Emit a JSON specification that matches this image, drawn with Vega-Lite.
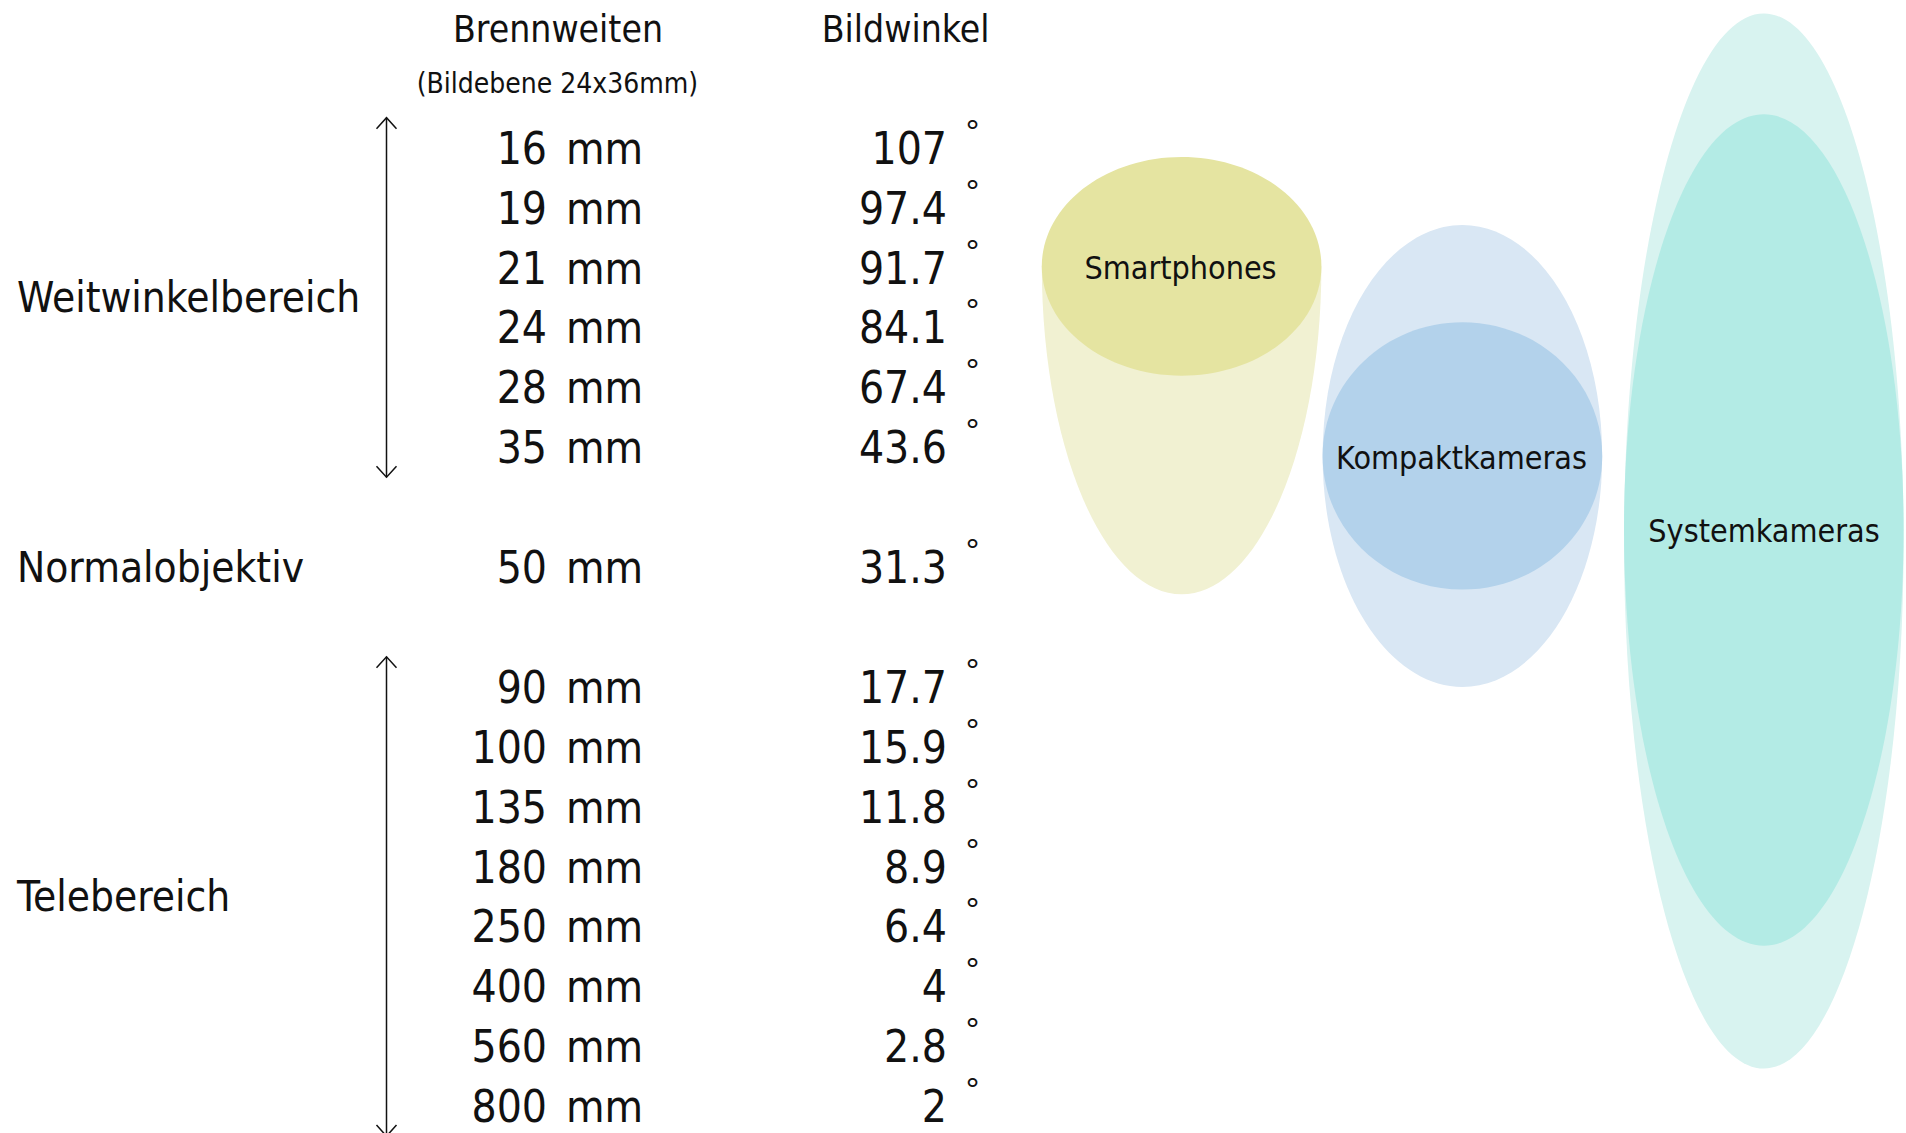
{
  "$schema": "https://vega.github.io/schema/vega-lite/v6.json",
  "width": 1906,
  "height": 1133,
  "padding": 0,
  "autosize": {"type": "none"},
  "background": "#ffffff",
  "config": {
    "view": {"stroke": null},
    "text": {"font": "Liberation Sans Narrow, DejaVu Sans Condensed, Roboto", "color": "#111111"}
  },
  "datasets": {
    "tabelle": [
      {"brennweite": 16, "winkel": 107, "gruppe": "Weitwinkelbereich", "zeile": 0},
      {"brennweite": 19, "winkel": 97.4, "gruppe": "Weitwinkelbereich", "zeile": 1},
      {"brennweite": 21, "winkel": 91.7, "gruppe": "Weitwinkelbereich", "zeile": 2},
      {"brennweite": 24, "winkel": 84.1, "gruppe": "Weitwinkelbereich", "zeile": 3},
      {"brennweite": 28, "winkel": 67.4, "gruppe": "Weitwinkelbereich", "zeile": 4},
      {"brennweite": 35, "winkel": 43.6, "gruppe": "Weitwinkelbereich", "zeile": 5},
      {"brennweite": 50, "winkel": 31.3, "gruppe": "Normalobjektiv", "zeile": 7},
      {"brennweite": 90, "winkel": 17.7, "gruppe": "Telebereich", "zeile": 9},
      {"brennweite": 100, "winkel": 15.9, "gruppe": "Telebereich", "zeile": 10},
      {"brennweite": 135, "winkel": 11.8, "gruppe": "Telebereich", "zeile": 11},
      {"brennweite": 180, "winkel": 8.9, "gruppe": "Telebereich", "zeile": 12},
      {"brennweite": 250, "winkel": 6.4, "gruppe": "Telebereich", "zeile": 13},
      {"brennweite": 400, "winkel": 4, "gruppe": "Telebereich", "zeile": 14},
      {"brennweite": 560, "winkel": 2.8, "gruppe": "Telebereich", "zeile": 15},
      {"brennweite": 800, "winkel": 2, "gruppe": "Telebereich", "zeile": 16}
    ],
    "kameras": [
      {"kamera": "Smartphones"},
      {"kamera": "Kompaktkameras"},
      {"kamera": "Systemkameras"}
    ]
  },
  "layer": [
    {
      "data": {"name": "kameras"},
      "transform": [{"filter": "datum.kamera === 'Smartphones'"}],
      "mark": {"type": "point", "shape": "M -0.4262 0 C -0.4262 0.5523 -0.2354 1 0 1 C 0.2354 1 0.4262 0.5523 0.4262 0 Z", "size": 430336, "filled": true, "fill": "#f1f1d2", "opacity": 1, "strokeWidth": 0},
      "encoding": {
        "x": {"datum": 1181.6, "type": "quantitative", "scale": {"domain": [0, 1906], "nice": false, "zero": false}, "axis": null},
        "y": {"datum": 1.98, "type": "quantitative", "scale": {"domain": [-2.4658, 16.449], "nice": false, "zero": false, "reverse": true}, "axis": null}
      }
    },
    {
      "data": {"name": "kameras"},
      "transform": [{"filter": "datum.kamera === 'Smartphones'"}],
      "mark": {"type": "point", "shape": "M -1.278 0 C -1.278 -0.5523 -0.7058 -1 0 -1 C 0.7058 -1 1.278 -0.5523 1.278 0 C 1.278 0.5523 0.7058 1 0 1 C -0.7058 1 -1.278 0.5523 -1.278 0 Z", "size": 47873, "filled": true, "fill": "#e5e4a1", "opacity": 1, "strokeWidth": 0},
      "encoding": {
        "x": {"datum": 1181.6, "type": "quantitative", "scale": {"domain": [0, 1906], "nice": false, "zero": false}, "axis": null},
        "y": {"datum": 1.98, "type": "quantitative", "scale": {"domain": [-2.4658, 16.449], "nice": false, "zero": false, "reverse": true}, "axis": null}
      }
    },
    {
      "data": {"name": "kameras"},
      "transform": [{"filter": "datum.kamera === 'Kompaktkameras'"}],
      "mark": {"type": "point", "shape": "M -0.6052 0 C -0.6052 -0.5523 -0.3343 -1 0 -1 C 0.3343 -1 0.6052 -0.5523 0.6052 0 C 0.6052 0.5523 0.3343 1 0 1 C -0.3343 1 -0.6052 0.5523 -0.6052 0 Z", "size": 213444, "filled": true, "fill": "#d9e7f4", "opacity": 1, "strokeWidth": 0},
      "encoding": {
        "x": {"datum": 1462.4, "type": "quantitative", "scale": {"domain": [0, 1906], "nice": false, "zero": false}, "axis": null},
        "y": {"datum": 5.145, "type": "quantitative", "scale": {"domain": [-2.4658, 16.449], "nice": false, "zero": false, "reverse": true}, "axis": null}
      }
    },
    {
      "data": {"name": "kameras"},
      "transform": [{"filter": "datum.kamera === 'Kompaktkameras'"}],
      "mark": {"type": "point", "shape": "M -1.0456 0 C -1.0456 -0.5523 -0.5775 -1 0 -1 C 0.5775 -1 1.0456 -0.5523 1.0456 0 C 1.0456 0.5523 0.5775 1 0 1 C -0.5775 1 -1.0456 0.5523 -1.0456 0 Z", "size": 71503, "filled": true, "fill": "#b3d2eb", "opacity": 1, "strokeWidth": 0},
      "encoding": {
        "x": {"datum": 1462.4, "type": "quantitative", "scale": {"domain": [0, 1906], "nice": false, "zero": false}, "axis": null},
        "y": {"datum": 5.145, "type": "quantitative", "scale": {"domain": [-2.4658, 16.449], "nice": false, "zero": false, "reverse": true}, "axis": null}
      }
    },
    {
      "data": {"name": "kameras"},
      "transform": [{"filter": "datum.kamera === 'Systemkameras'"}],
      "mark": {"type": "point", "shape": "M -0.265 0 C -0.265 -0.5523 -0.1464 -1 0 -1 C 0.1464 -1 0.265 -0.5523 0.265 0 C 0.265 0.5523 0.1464 1 0 1 C -0.1464 1 -0.265 0.5523 -0.265 0 Z", "size": 1113447, "filled": true, "fill": "#d8f3f0", "opacity": 1, "strokeWidth": 0},
      "encoding": {
        "x": {"datum": 1763.8, "type": "quantitative", "scale": {"domain": [0, 1906], "nice": false, "zero": false}, "axis": null},
        "y": {"datum": 6.566, "type": "quantitative", "scale": {"domain": [-2.4658, 16.449], "nice": false, "zero": false, "reverse": true}, "axis": null}
      }
    },
    {
      "data": {"name": "kameras"},
      "transform": [{"filter": "datum.kamera === 'Systemkameras'"}],
      "mark": {"type": "point", "shape": "M -0.3363 0 C -0.3363 -0.5523 -0.1857 -1 0 -1 C 0.1857 -1 0.3363 -0.5523 0.3363 0 C 0.3363 0.5523 0.1857 1 0 1 C -0.1857 1 -0.3363 0.5523 -0.3363 0 Z", "size": 691226, "filled": true, "fill": "#b3ebe5", "opacity": 1, "strokeWidth": 0},
      "encoding": {
        "x": {"datum": 1763.8, "type": "quantitative", "scale": {"domain": [0, 1906], "nice": false, "zero": false}, "axis": null},
        "y": {"datum": 6.382, "type": "quantitative", "scale": {"domain": [-2.4658, 16.449], "nice": false, "zero": false, "reverse": true}, "axis": null}
      }
    },
    {
      "data": {"name": "kameras"},
      "transform": [{"filter": "datum.kamera === 'Smartphones'"}],
      "mark": {"type": "text", "fontSize": 32, "align": "center", "baseline": "middle", "dy": 2},
      "encoding": {
        "x": {"datum": 1180.5, "type": "quantitative", "scale": {"domain": [0, 1906], "nice": false, "zero": false}, "axis": null},
        "y": {"datum": 1.99, "type": "quantitative", "scale": {"domain": [-2.4658, 16.449], "nice": false, "zero": false, "reverse": true}, "axis": null},
        "text": {"field": "kamera", "type": "nominal"}
      }
    },
    {
      "data": {"name": "kameras"},
      "transform": [{"filter": "datum.kamera === 'Kompaktkameras'"}],
      "mark": {"type": "text", "fontSize": 32, "align": "center", "baseline": "middle", "dy": 2},
      "encoding": {
        "x": {"datum": 1461.5, "type": "quantitative", "scale": {"domain": [0, 1906], "nice": false, "zero": false}, "axis": null},
        "y": {"datum": 5.16, "type": "quantitative", "scale": {"domain": [-2.4658, 16.449], "nice": false, "zero": false, "reverse": true}, "axis": null},
        "text": {"field": "kamera", "type": "nominal"}
      }
    },
    {
      "data": {"name": "kameras"},
      "transform": [{"filter": "datum.kamera === 'Systemkameras'"}],
      "mark": {"type": "text", "fontSize": 32, "align": "center", "baseline": "middle", "dy": 2},
      "encoding": {
        "x": {"datum": 1764, "type": "quantitative", "scale": {"domain": [0, 1906], "nice": false, "zero": false}, "axis": null},
        "y": {"datum": 6.38, "type": "quantitative", "scale": {"domain": [-2.4658, 16.449], "nice": false, "zero": false, "reverse": true}, "axis": null},
        "text": {"field": "kamera", "type": "nominal"}
      }
    },
    {
      "data": {"values": [{"titel": "Brennweiten"}]},
      "mark": {"type": "text", "fontSize": 37, "align": "center", "baseline": "middle", "dy": 3},
      "encoding": {
        "x": {"datum": 558, "type": "quantitative", "scale": {"domain": [0, 1906], "nice": false, "zero": false}, "axis": null},
        "y": {"datum": -2, "type": "quantitative", "scale": {"domain": [-2.4658, 16.449], "nice": false, "zero": false, "reverse": true}, "axis": null},
        "text": {"field": "titel", "type": "nominal"}
      }
    },
    {
      "data": {"values": [{"titel": "(Bildebene 24x36mm)"}]},
      "mark": {"type": "text", "fontSize": 28, "align": "center", "baseline": "middle", "dy": 2},
      "encoding": {
        "x": {"datum": 557.4, "type": "quantitative", "scale": {"domain": [0, 1906], "nice": false, "zero": false}, "axis": null},
        "y": {"datum": -1.085, "type": "quantitative", "scale": {"domain": [-2.4658, 16.449], "nice": false, "zero": false, "reverse": true}, "axis": null},
        "text": {"field": "titel", "type": "nominal"}
      }
    },
    {
      "data": {"values": [{"titel": "Bildwinkel"}]},
      "mark": {"type": "text", "fontSize": 37, "align": "center", "baseline": "middle", "dy": 3},
      "encoding": {
        "x": {"datum": 905.6, "type": "quantitative", "scale": {"domain": [0, 1906], "nice": false, "zero": false}, "axis": null},
        "y": {"datum": -2, "type": "quantitative", "scale": {"domain": [-2.4658, 16.449], "nice": false, "zero": false, "reverse": true}, "axis": null},
        "text": {"field": "titel", "type": "nominal"}
      }
    },
    {
      "data": {"name": "tabelle"},
      "mark": {"type": "text", "fontSize": 42, "align": "left", "baseline": "middle", "dy": 2},
      "encoding": {
        "x": {"datum": 17, "type": "quantitative", "scale": {"domain": [0, 1906], "nice": false, "zero": false}, "axis": null},
        "y": {"aggregate": "mean", "field": "zeile", "type": "quantitative", "scale": {"domain": [-2.4658, 16.449], "nice": false, "zero": false, "reverse": true}, "axis": null},
        "text": {"field": "gruppe", "type": "nominal"}
      }
    },
    {
      "data": {"name": "tabelle"},
      "transform": [{"filter": "datum.gruppe !== 'Normalobjektiv'"}],
      "mark": {"type": "rule", "color": "#111111", "strokeWidth": 1.5, "yOffset": -30, "y2Offset": 30},
      "encoding": {
        "x": {"datum": 386.5, "type": "quantitative", "scale": {"domain": [0, 1906], "nice": false, "zero": false}, "axis": null},
        "y": {"aggregate": "min", "field": "zeile", "type": "quantitative", "scale": {"domain": [-2.4658, 16.449], "nice": false, "zero": false, "reverse": true}, "axis": null},
        "y2": {"aggregate": "max", "field": "zeile"},
        "detail": {"field": "gruppe", "type": "nominal"}
      }
    },
    {
      "data": {"name": "tabelle"},
      "transform": [{"filter": "datum.gruppe !== 'Normalobjektiv'"}],
      "mark": {"type": "point", "shape": "M -1 1.1 L 0 0 L 1 1.1", "size": 400, "filled": false, "stroke": "#111111", "strokeWidth": 1.5, "opacity": 1, "yOffset": -30},
      "encoding": {
        "x": {"datum": 386.5, "type": "quantitative", "scale": {"domain": [0, 1906], "nice": false, "zero": false}, "axis": null},
        "y": {"aggregate": "min", "field": "zeile", "type": "quantitative", "scale": {"domain": [-2.4658, 16.449], "nice": false, "zero": false, "reverse": true}, "axis": null},
        "detail": {"field": "gruppe", "type": "nominal"}
      }
    },
    {
      "data": {"name": "tabelle"},
      "transform": [{"filter": "datum.gruppe !== 'Normalobjektiv'"}],
      "mark": {"type": "point", "shape": "M -1 -1.1 L 0 0 L 1 -1.1", "size": 400, "filled": false, "stroke": "#111111", "strokeWidth": 1.5, "opacity": 1, "yOffset": 30},
      "encoding": {
        "x": {"datum": 386.5, "type": "quantitative", "scale": {"domain": [0, 1906], "nice": false, "zero": false}, "axis": null},
        "y": {"aggregate": "max", "field": "zeile", "type": "quantitative", "scale": {"domain": [-2.4658, 16.449], "nice": false, "zero": false, "reverse": true}, "axis": null},
        "detail": {"field": "gruppe", "type": "nominal"}
      }
    },
    {
      "data": {"name": "tabelle"},
      "mark": {"type": "text", "fontSize": 44, "align": "right", "baseline": "middle", "dy": 3},
      "encoding": {
        "x": {"datum": 547, "type": "quantitative", "scale": {"domain": [0, 1906], "nice": false, "zero": false}, "axis": null},
        "y": {"field": "zeile", "type": "quantitative", "scale": {"domain": [-2.4658, 16.449], "nice": false, "zero": false, "reverse": true}, "axis": null},
        "text": {"field": "brennweite", "type": "nominal"}
      }
    },
    {
      "data": {"name": "tabelle"},
      "mark": {"type": "text", "text": "mm", "fontSize": 44, "align": "left", "baseline": "middle", "dy": 3},
      "encoding": {
        "x": {"datum": 566, "type": "quantitative", "scale": {"domain": [0, 1906], "nice": false, "zero": false}, "axis": null},
        "y": {"field": "zeile", "type": "quantitative", "scale": {"domain": [-2.4658, 16.449], "nice": false, "zero": false, "reverse": true}, "axis": null}
      }
    },
    {
      "data": {"name": "tabelle"},
      "mark": {"type": "text", "fontSize": 44, "align": "right", "baseline": "middle", "dy": 3},
      "encoding": {
        "x": {"datum": 947, "type": "quantitative", "scale": {"domain": [0, 1906], "nice": false, "zero": false}, "axis": null},
        "y": {"field": "zeile", "type": "quantitative", "scale": {"domain": [-2.4658, 16.449], "nice": false, "zero": false, "reverse": true}, "axis": null},
        "text": {"field": "winkel", "type": "nominal"}
      }
    },
    {
      "data": {"name": "tabelle"},
      "mark": {"type": "text", "text": "°", "font": "Liberation Sans", "fontSize": 34, "align": "center", "baseline": "middle", "dy": -15},
      "encoding": {
        "x": {"datum": 972.5, "type": "quantitative", "scale": {"domain": [0, 1906], "nice": false, "zero": false}, "axis": null},
        "y": {"field": "zeile", "type": "quantitative", "scale": {"domain": [-2.4658, 16.449], "nice": false, "zero": false, "reverse": true}, "axis": null}
      }
    }
  ]
}
